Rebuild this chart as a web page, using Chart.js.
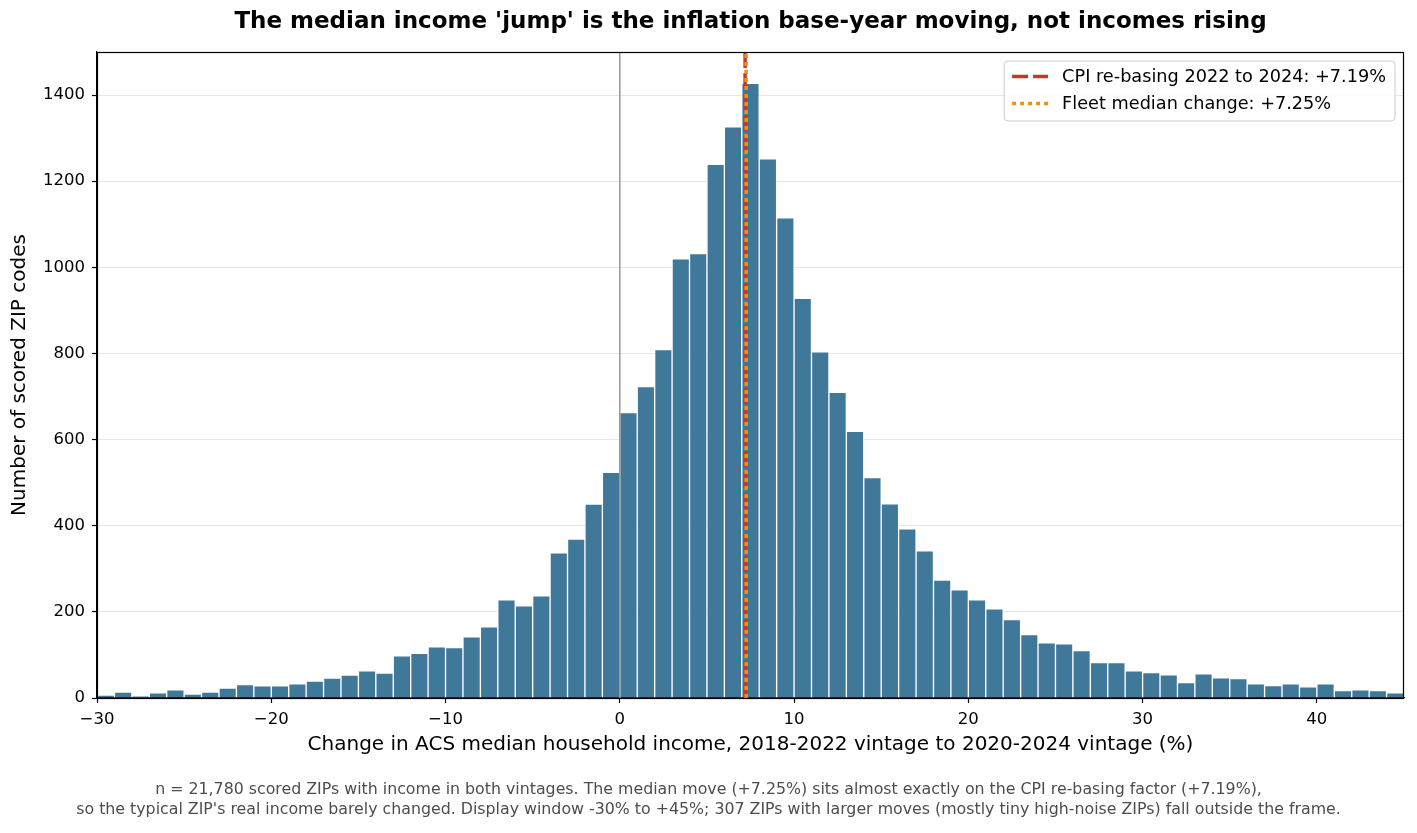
<!DOCTYPE html>
<html>
<head>
<meta charset="utf-8">
<script src="https://cdn.jsdelivr.net/npm/chart.js@4.4.1/dist/chart.umd.min.js"></script>
<style>
  html, body { margin: 0; padding: 0; background: #ffffff; }
  #wrap { width: 1417px; height: 833px; }
</style>
</head>
<body>
<div id="wrap"><canvas id="c" width="1417" height="833"></canvas></div>
<script>
// ---- Data ----
const binStarts = [-30,-29,-28,-27,-26,-25,-24,-23,-22,-21,-20,-19,-18,-17,-16,-15,-14,-13,-12,-11,
  -10,-9,-8,-7,-6,-5,-4,-3,-2,-1,0,1,2,3,4,5,6,7,8,9,10,11,12,13,14,15,16,17,18,19,
  20,21,22,23,24,25,26,27,28,29,30,31,32,33,34,35,36,37,38,39,40,41,42,43,44];
const binWidth = 1;
const zipCounts = [7,14,4,12,19,9,14,23,31,28,28,33,39,46,53,63,58,98,104,119,
  117,142,165,228,214,237,337,369,450,524,663,723,809,1020,1032,1239,1326,1427,1252,1115,
  928,804,710,619,512,451,393,342,274,251,228,207,182,147,128,126,110,82,82,63,
  59,54,36,56,47,45,33,29,33,26,33,17,19,17,12];
const cpiRebase = 7.19;
const fleetMedian = 7.25;
const zeroLine = 0;
const xTicks = [-30,-20,-10,0,10,20,30,40];
const yTicks = [0,200,400,600,800,1000,1200,1400];
const xRange = [-30, 45];
const yRange = [0, 1500];

const titleText = "The median income 'jump' is the inflation base-year moving, not incomes rising";
const xTitle = "Change in ACS median household income, 2018-2022 vintage to 2020-2024 vintage (%)";
const yTitle = "Number of scored ZIP codes";
const footnote = [
  "n = 21,780 scored ZIPs with income in both vintages. The median move (+7.25%) sits almost exactly on the CPI re-basing factor (+7.19%),",
  "so the typical ZIP's real income barely changed. Display window -30% to +45%; 307 ZIPs with larger moves (mostly tiny high-noise ZIPs) fall outside the frame."
];
const cpiLabel = "CPI re-basing 2022 to 2024: +7.19%";
const medianLabel = "Fleet median change: +7.25%";

// ---- Build datasets ----
const histData = binStarts.map((s, i) => ({ x: s + binWidth / 2, y: zipCounts[i] }));
const vline = (v) => [{ x: v, y: yRange[0] }, { x: v, y: yRange[1] }];

const FONT = "'DejaVu Sans', 'Liberation Sans', sans-serif";
const fmt = (v) => (v < 0 ? '\u2212' + Math.abs(v) : String(v));

const framePlugin = {
  id: 'frameAndLegend',
  afterDraw(chart) {
    const { ctx, chartArea: a } = chart;
    ctx.save();
    ctx.strokeStyle = '#000';
    ctx.lineWidth = 1.2;
    ctx.strokeRect(a.left + 0.5, a.top + 0.5, a.right - a.left - 1, a.bottom - a.top);
    // legend (boxed, inside upper right)
    const items = chart.data.datasets.filter(d => d.showInLegend);
    ctx.font = "17.7px " + FONT;
    let tw = 0;
    items.forEach(d => { tw = Math.max(tw, ctx.measureText(d.label).width); });
    const boxW = 58 + tw + 9;
    const boxH = 60;
    const bx = a.right - 9 - boxW;
    const by = a.top + 9;
    ctx.beginPath();
    if (ctx.roundRect) ctx.roundRect(bx, by, boxW, boxH, 4); else ctx.rect(bx, by, boxW, boxH);
    ctx.fillStyle = 'rgba(255,255,255,0.85)';
    ctx.fill();
    ctx.strokeStyle = '#cccccc';
    ctx.lineWidth = 1;
    ctx.stroke();
    items.forEach((d, i) => {
      const cy = by + 15.5 + i * 27;
      ctx.beginPath();
      ctx.setLineDash(d.borderDash || []);
      ctx.strokeStyle = d.borderColor;
      ctx.lineWidth = d.borderWidth;
      ctx.moveTo(bx + 8, cy);
      ctx.lineTo(bx + 44, cy);
      ctx.stroke();
      ctx.setLineDash([]);
      ctx.fillStyle = '#000';
      ctx.textBaseline = 'middle';
      ctx.textAlign = 'left';
      ctx.fillText(d.label, bx + 58, cy + 1);
    });
    ctx.restore();
  }
};

new Chart(document.getElementById('c'), {
  type: 'bar',
  data: {
    datasets: [
      {
        type: 'bar',
        label: 'ZIPs',
        data: histData,
        backgroundColor: '#407899',
        borderColor: 'rgba(255,255,255,0.8)',
        borderWidth: 1,
        barPercentage: 1.0,
        categoryPercentage: 1.0,
        order: 10
      },
      {
        type: 'line',
        label: 'zero',
        data: vline(zeroLine),
        borderColor: '#8a8a8a',
        borderWidth: 1.3,
        pointRadius: 0,
        order: 5
      },
      {
        type: 'line',
        label: cpiLabel,
        data: vline(cpiRebase),
        borderColor: '#c0392b',
        borderWidth: 3.5,
        borderDash: [16, 5],
        pointRadius: 0,
        showInLegend: true,
        order: 2
      },
      {
        type: 'line',
        label: medianLabel,
        data: vline(fleetMedian),
        borderColor: '#f0900c',
        borderWidth: 3.5,
        borderDash: [4, 4],
        pointRadius: 0,
        showInLegend: true,
        order: 1
      }
    ]
  },
  options: {
    responsive: false,
    animation: false,
    devicePixelRatio: 1,
    layout: { padding: { left: 0, right: 0, top: 0, bottom: 0 } },
    plugins: {
      legend: { display: false },
      tooltip: { enabled: false },
      title: {
        display: true,
        text: titleText,
        fullSize: false,
        color: '#000',
        font: { family: FONT, size: 23, weight: 'bold', lineHeight: 1.2 },
        padding: { top: 8, bottom: 16.4 }
      },
      subtitle: {
        display: true,
        position: 'bottom',
        text: footnote,
        color: '#4d4d4d',
        font: { family: FONT, size: 15.8, lineHeight: 1.25 },
        padding: { top: 0, bottom: 13 }
      }
    },
    scales: {
      x: {
        type: 'linear',
        min: xRange[0],
        max: xRange[1],
        offset: false,
        afterBuildTicks(scale) { scale.ticks = xTicks.map(v => ({ value: v })); },
        ticks: {
          color: '#000',
          font: { family: FONT, size: 16.5 },
          padding: 6.5,
          maxRotation: 0,
          autoSkip: false,
          callback: (v) => fmt(v)
        },
        grid: { display: true, offset: false, drawOnChartArea: false, tickLength: 5, tickColor: '#000', tickWidth: 1.2 },
        border: { display: true, color: '#000', width: 1.2 },
        title: {
          display: true,
          text: xTitle,
          color: '#000',
          font: { family: FONT, size: 20, lineHeight: 1.2 },
          padding: { top: -3, bottom: 23.7 }
        }
      },
      y: {
        type: 'linear',
        min: yRange[0],
        max: yRange[1],
        afterBuildTicks(scale) { scale.ticks = yTicks.map(v => ({ value: v })); },
        afterFit(scale) { scale.width = 97; },
        ticks: {
          color: '#000',
          font: { family: FONT, size: 16.5 },
          padding: 7,
          autoSkip: false,
          callback: (v) => fmt(v)
        },
        grid: { color: '#e6e6e6', lineWidth: 1, tickLength: 5, tickColor: '#000', tickWidth: 1.2 },
        border: { display: true, color: '#000', width: 1.2 },
        title: {
          display: true,
          text: yTitle,
          color: '#000',
          font: { family: FONT, size: 20, lineHeight: 1.2 },
          padding: { top: 8, bottom: 4 }
        }
      },
      rightMargin: {
        type: 'linear',
        position: 'right',
        display: true,
        afterFit(scale) { scale.width = 13; },
        ticks: { display: false },
        grid: { display: false, drawTicks: false },
        border: { display: false }
      }
    }
  },
  plugins: [framePlugin]
});
</script>
</body>
</html>
